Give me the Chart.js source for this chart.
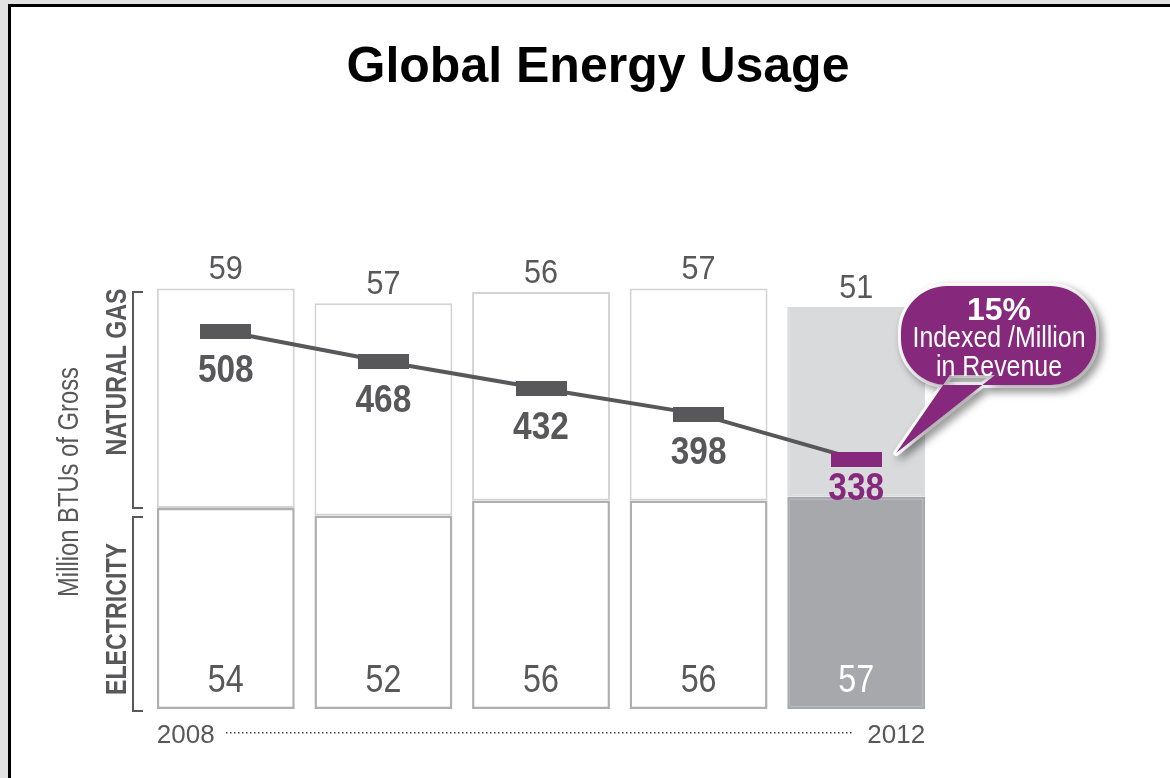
<!DOCTYPE html>
<html>
<head>
<meta charset="utf-8">
<script src="https://cdn.jsdelivr.net/npm/chart.js@4.4.1/dist/chart.umd.min.js"></script>
<style>
  html,body{margin:0;padding:0;background:#e2e2e2;overflow:hidden}
  canvas{display:block}
</style>
</head>
<body>
<canvas id="energyChart" width="1170" height="778"></canvas>
<script>
// data
const years = ['2008','2009','2010','2011','2012'];
const electricity = [54,52,56,56,57];
const naturalGas = [59,57,56,57,51];
const indexedRevenue = [508,468,432,398,338];
const calloutLines = ['15%','Indexed /Million','in Revenue'];

const GRAY = '#58585a';
const PURPLE = '#86297c';
const FONT = '"Liberation Sans", Arial, Helvetica, sans-serif';

function markerImg(color){
    const c = document.createElement('canvas');
    c.width = 51; c.height = 15;
    const g = c.getContext('2d');
    g.fillStyle = color;
    g.fillRect(0,0,51,15);
    return c;
}
const markers = indexedRevenue.map((v,i)=> markerImg(i===indexedRevenue.length-1 ? PURPLE : GRAY));

// draw horizontally squeezed text (to mimic a condensed face)
function cText(ctx, txt, x, y, font, sx, color, align, rot){
    ctx.save();
    ctx.translate(x,y);
    if(rot) ctx.rotate(rot);
    ctx.scale(sx,1);
    ctx.font = font;
    ctx.fillStyle = color;
    ctx.textAlign = align || 'center';
    ctx.textBaseline = 'alphabetic';
    ctx.fillText(txt,0,0);
    ctx.restore();
}

const last = years.length-1;
const isLast = (arr, a, b) => arr.map((v,i)=> i===last ? b : a);

const decor = {
    id:'decor',
    beforeDraw(chart){
        const ctx = chart.ctx;
        ctx.save();
        ctx.fillStyle = '#e2e2e2';
        ctx.fillRect(0,0,1170,778);
        ctx.fillStyle = '#000';
        ctx.fillRect(8,4,1170,778);
        ctx.fillStyle = '#fff';
        ctx.fillRect(11,7,1170,778);
        ctx.restore();

        // title
        cText(ctx,'Global Energy Usage',598,82,'bold 50px '+FONT,1,'#000');
    },
    afterDatasetsDraw(chart){
        const ctx = chart.ctx;
        const elec = chart.getDatasetMeta(0).data;
        const gas = chart.getDatasetMeta(1).data;
        const line = chart.getDatasetMeta(2).data;

        gas.forEach((el,i)=>{
            cText(ctx,String(naturalGas[i]),el.x,el.y-9,'34px '+FONT,0.9,GRAY);
        });
        elec.forEach((el,i)=>{
            cText(ctx,String(electricity[i]),el.x,el.base-17,'38px '+FONT,0.85,i===last?'#fff':GRAY);
        });
        line.forEach((pt,i)=>{
            const off = i===last ? 41 : 50;
            cText(ctx,String(indexedRevenue[i]),pt.x,pt.y+off,'bold 38px '+FONT,0.88,i===last?PURPLE:GRAY);
        });

        // side brackets and labels
        ctx.save();
        ctx.strokeStyle = GRAY;
        ctx.lineWidth = 2;
        ctx.beginPath();
        ctx.moveTo(143,292); ctx.lineTo(133,292); ctx.lineTo(133,508); ctx.lineTo(143,508);
        ctx.moveTo(143,517); ctx.lineTo(133,517); ctx.lineTo(133,711); ctx.lineTo(143,711);
        ctx.stroke();
        ctx.restore();
        cText(ctx,'NATURAL GAS',126,372,'bold 29px '+FONT,0.8,GRAY,'center',-Math.PI/2);
        cText(ctx,'ELECTRICITY',126,619,'bold 29px '+FONT,0.8,GRAY,'center',-Math.PI/2);
        cText(ctx,'Million BTUs of Gross',78,482,'29px '+FONT,0.82,GRAY,'center',-Math.PI/2);

        // year axis
        const first = elec[0], end = elec[last];
        cText(ctx,years[0],first.x-first.width/2,743,'26px '+FONT,1,GRAY,'left');
        cText(ctx,years[last],end.x+end.width/2,743,'26px '+FONT,1,GRAY,'right');
        ctx.save();
        ctx.fillStyle = '#444';
        for(let x=226;x<=853;x+=4) ctx.fillRect(x,732,1.5,1.5);
        ctx.restore();

        // callout bubble
        const tip = line[last];
        const p = new Path2D();
        p.roundRect(901,286,195,99,46);
        p.moveTo(950,375);
        p.lineTo(tip.x+40,tip.y-6);
        p.lineTo(995,375);
        p.closePath();
        ctx.save();
        ctx.shadowColor = 'rgba(0,0,0,0.35)';
        ctx.shadowBlur = 8;
        ctx.shadowOffsetX = 4;
        ctx.shadowOffsetY = 4;
        ctx.fillStyle = '#fff';
        ctx.strokeStyle = '#fff';
        ctx.lineWidth = 6;
        ctx.lineJoin = 'round';
        ctx.stroke(p);
        ctx.fill(p);
        ctx.restore();
        ctx.save();
        ctx.fillStyle = PURPLE;
        ctx.fill(p);
        ctx.restore();
        cText(ctx,calloutLines[0],999,320,'bold 32px '+FONT,1,'#fff');
        cText(ctx,calloutLines[1],999,347,'30px '+FONT,0.83,'#fff');
        cText(ctx,calloutLines[2],999,376,'30px '+FONT,0.83,'#fff');
    }
};

new Chart(document.getElementById('energyChart').getContext('2d'),{
    type:'bar',
    data:{
        labels:years,
        datasets:[
            {
                label:'Electricity',
                data:electricity,
                backgroundColor:isLast(years,'#ffffff','#a7a8ab'),
                borderColor:isLast(years,'#aeafb2','#a7a8ab'),
                borderWidth:2.5,
                borderSkipped:false,
                stack:'energy',
                yAxisID:'y',
                categoryPercentage:1,
                barPercentage:0.875,
                order:2
            },
            {
                label:'Natural Gas',
                data:naturalGas,
                backgroundColor:isLast(years,'#ffffff','#d9dadc'),
                borderColor:isLast(years,'#d3d3d5','#d9dadc'),
                borderWidth:2,
                borderSkipped:false,
                stack:'energy',
                yAxisID:'y',
                categoryPercentage:1,
                barPercentage:0.875,
                order:2
            },
            {
                type:'line',
                label:'Indexed /Million in Revenue',
                data:indexedRevenue,
                yAxisID:'y2',
                borderColor:GRAY,
                borderWidth:4,
                tension:0,
                pointStyle:markers,
                pointRadius:10,
                clip:false,
                order:0
            }
        ]
    },
    options:{
        responsive:false,
        animation:false,
        events:[],
        layout:{padding:{left:147,right:235,top:240,bottom:69}},
        plugins:{legend:{display:false},tooltip:{enabled:false},title:{display:false}},
        scales:{
            x:{display:false,stacked:true},
            y:{display:false,stacked:true,min:0,max:126},
            y2:{display:false,min:5,max:630}
        }
    },
    plugins:[decor]
});
</script>
</body>
</html>
